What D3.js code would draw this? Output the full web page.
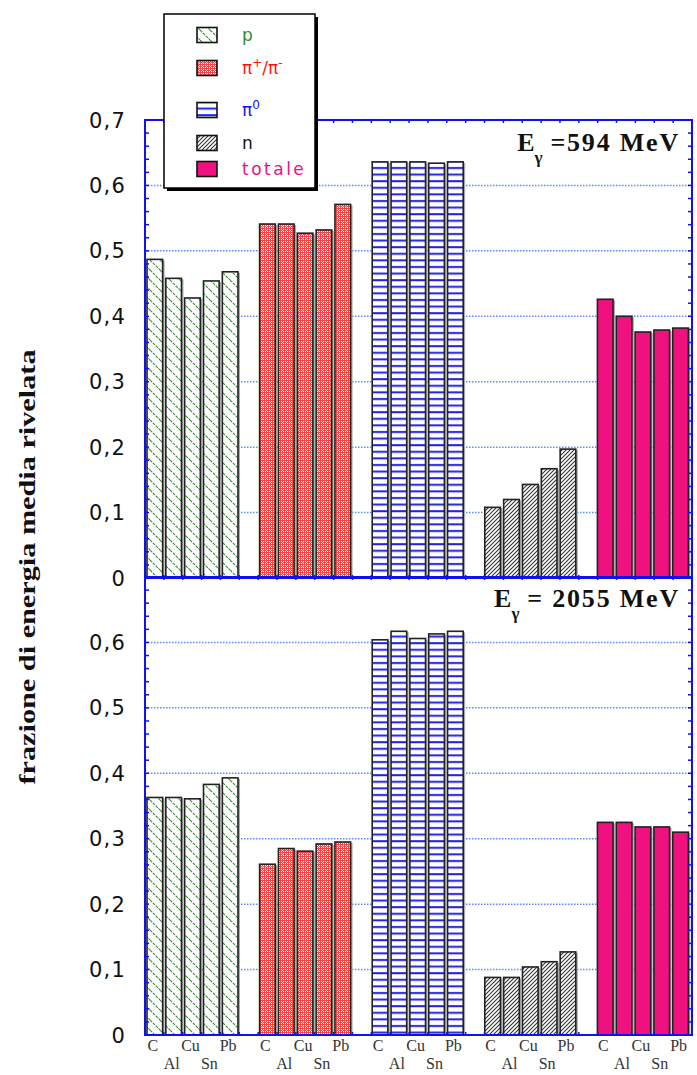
<!DOCTYPE html>
<html>
<head>
<meta charset="utf-8">
<title>frazione di energia media rivelata</title>
<script src="https://cdn.jsdelivr.net/npm/d3@7"></script>
<style>
body { margin: 0; background: #fff; }
svg { display: block; }
</style>
</head>
<body>
<div id="chart"></div>
<script>
// categories
var particles = ["p", "pipm", "pi0", "n", "totale"];
var targets = ["C", "Al", "Cu", "Sn", "Pb"];
// E gamma = 594 MeV
var p594 = [0.487, 0.458, 0.428, 0.454, 0.468];
var pipm594 = [0.541, 0.541, 0.527, 0.532, 0.571];
var pi0594 = [0.636, 0.636, 0.636, 0.634, 0.636];
var n594 = [0.108, 0.120, 0.143, 0.167, 0.197];
var tot594 = [0.426, 0.400, 0.376, 0.379, 0.382];
// E gamma = 2055 MeV
var p2055 = [0.363, 0.363, 0.361, 0.383, 0.393];
var pipm2055 = [0.261, 0.285, 0.281, 0.292, 0.295];
var pi02055 = [0.604, 0.617, 0.606, 0.613, 0.617];
var n2055 = [0.088, 0.088, 0.104, 0.112, 0.127];
var tot2055 = [0.325, 0.325, 0.318, 0.318, 0.310];
// axis
var yTicks = [0, 0.1, 0.2, 0.3, 0.4, 0.5, 0.6, 0.7];
var gridTicks = [0.1, 0.2, 0.3, 0.4, 0.5, 0.6];
var topRowTargets = ["C", "Cu", "Pb"];

var W = 697, H = 1075;
var left = 145, right = 692;
var BLUE = "#1010f0";

var svg = d3.select("#chart").append("svg").attr("width", W).attr("height", H);
var defs = svg.append("defs");

// fill patterns
var pp = defs.append("pattern").attr("id", "pat-p").attr("patternUnits", "userSpaceOnUse")
	.attr("width", 10).attr("height", 10);
pp.append("rect").attr("width", 10).attr("height", 10).attr("fill", "#fff");
pp.append("path").attr("d", "M0,0 L10,10 M8,-2 L12,2 M-2,8 L2,12").attr("stroke", "#3b8a3b")
	.attr("stroke-width", 1.1).attr("stroke-dasharray", "3,1");

var pm = defs.append("pattern").attr("id", "pat-pipm").attr("patternUnits", "userSpaceOnUse")
	.attr("width", 4).attr("height", 4);
pm.append("rect").attr("width", 4).attr("height", 4).attr("fill", "#ff4040").attr("shape-rendering", "crispEdges");
[[1, 1], [3, 3], [3, 1], [1, 3]].forEach(function(c) {
	pm.append("rect").attr("x", c[0]).attr("y", c[1]).attr("width", 1).attr("height", 1)
		.attr("fill", "#fff").attr("shape-rendering", "crispEdges");
});
pm.append("rect").attr("x", 2).attr("y", 2).attr("width", 1).attr("height", 1)
	.attr("fill", "#ffc0c0").attr("shape-rendering", "crispEdges");

var p0 = defs.append("pattern").attr("id", "pat-pi0").attr("patternUnits", "userSpaceOnUse")
	.attr("width", 6).attr("height", 6.6);
p0.append("rect").attr("width", 6).attr("height", 6.6).attr("fill", "#fff");
p0.append("rect").attr("y", 2).attr("width", 6).attr("height", 2).attr("fill", "#2222e0");

var pn = defs.append("pattern").attr("id", "pat-n").attr("patternUnits", "userSpaceOnUse")
	.attr("width", 4).attr("height", 4);
pn.append("rect").attr("width", 4).attr("height", 4).attr("fill", "#fff");
pn.append("path").attr("d", "M0,4 L4,0 M-1,1 L1,-1 M3,5 L5,3").attr("stroke", "#333")
	.attr("stroke-width", 1.1);

var fills = {
	p: "url(#pat-p)", pipm: "url(#pat-pipm)", pi0: "url(#pat-pi0)",
	n: "url(#pat-n)", totale: "#f0107f"
};

var fmt = d3.formatLocale({decimal: ",", thousands: ".", grouping: [3], currency: ["", ""]}).format(".1~f");

var xGroup = d3.scaleBand().domain(particles).range([147, 688.4]).paddingInner(0.192).paddingOuter(0);
var xBar = d3.scaleBand().domain(targets).range([0, xGroup.bandwidth()]).paddingInner(0.17).paddingOuter(0);
var xTick = d3.scaleLinear().domain([0, 29]).range([left, right]);
var yMinor = d3.range(0, 0.701, 0.02);

var panels = [
	{data: {p: p594, pipm: pipm594, pi0: pi0594, n: n594, totale: tot594},
	 y: d3.scaleLinear().domain([0, 0.7]).range([578, 120]), labels: yTicks, energy: "=594 MeV", gap: 8, ey: 151},
	{data: {p: p2055, pipm: pipm2055, pi0: pi02055, n: n2055, totale: tot2055},
	 y: d3.scaleLinear().domain([0, 0.7]).range([1035, 577]), labels: yTicks.slice(0, 7), energy: "= 2055 MeV", gap: 8, ey: 607}
];

panels.forEach(function(pan) {
	var y = pan.y;
	var g = svg.append("g");
	// gridlines
	g.selectAll("line.grid").data(gridTicks).enter().append("line")
		.attr("x1", left).attr("x2", right)
		.attr("y1", function(d) { return y(d); }).attr("y2", function(d) { return y(d); })
		.attr("stroke", "#5a8cff").attr("stroke-width", 1.5).attr("stroke-dasharray", "1.5,1.5");
	// bars
	var rows = [];
	particles.forEach(function(k) {
		pan.data[k].forEach(function(v, i) { rows.push({k: k, t: targets[i], v: v}); });
	});
	g.selectAll("rect.shadow").data(rows).enter().append("rect")
		.attr("x", function(d) { return xGroup(d.k) + xBar(d.t) + 2; })
		.attr("y", function(d) { return y(d.v) + 1; })
		.attr("width", xBar.bandwidth())
		.attr("height", function(d) { return y(0) - y(d.v) - 1; })
		.attr("fill", "#aaa");
	g.selectAll("rect.base").data(rows).enter().append("rect")
		.attr("x", function(d) { return xGroup(d.k) + xBar(d.t); })
		.attr("y", function(d) { return y(d.v); })
		.attr("width", xBar.bandwidth())
		.attr("height", function(d) { return y(0) - y(d.v); })
		.attr("fill", "#fff");
	g.selectAll("rect.bar").data(rows).enter().append("rect")
		.attr("x", function(d) { return xGroup(d.k) + xBar(d.t); })
		.attr("y", function(d) { return y(d.v); })
		.attr("width", xBar.bandwidth())
		.attr("height", function(d) { return y(0) - y(d.v); })
		.attr("fill", function(d) { return fills[d.k]; })
		.attr("stroke", "#222").attr("stroke-width", 1.6);
	// frame
	var y0 = y(0), y1 = y(0.7);
	g.append("rect").attr("x", left).attr("y", y1).attr("width", right - left).attr("height", y0 - y1)
		.attr("fill", "none").attr("stroke", BLUE).attr("stroke-width", 2);
	// minor ticks on left and right
	g.selectAll("line.tl").data(yMinor).enter().append("line")
		.attr("x1", left).attr("x2", left + 4)
		.attr("y1", function(d) { return y(d); }).attr("y2", function(d) { return y(d); })
		.attr("stroke", BLUE).attr("stroke-width", 1.5);
	g.selectAll("line.tr").data(yMinor).enter().append("line")
		.attr("x1", right - 4).attr("x2", right)
		.attr("y1", function(d) { return y(d); }).attr("y2", function(d) { return y(d); })
		.attr("stroke", BLUE).attr("stroke-width", 1.5);
	// ticks along top and bottom
	var xt = d3.range(0, 30);
	g.selectAll("line.tt").data(xt).enter().append("line")
		.attr("x1", function(d) { return xTick(d); }).attr("x2", function(d) { return xTick(d); })
		.attr("y1", y1).attr("y2", y1 + 3).attr("stroke", BLUE).attr("stroke-width", 1.5);
	g.selectAll("line.tb").data(xt).enter().append("line")
		.attr("x1", function(d) { return xTick(d); }).attr("x2", function(d) { return xTick(d); })
		.attr("y1", y0 - 3).attr("y2", y0).attr("stroke", BLUE).attr("stroke-width", 1.5);
	// y labels
	g.selectAll("text.yl").data(pan.labels).enter().append("text")
		.attr("x", 126).attr("y", function(d) { return y(d); })
		.attr("dy", "0.36em").attr("text-anchor", "end")
		.attr("font-family", "DejaVu Sans, sans-serif").attr("font-size", 21)
		.attr("letter-spacing", 1.2).attr("fill", "#111")
		.text(function(d) { return fmt(d); });
	// energy label
	var et = g.append("text").attr("x", 680).attr("y", pan.ey).attr("text-anchor", "end")
		.attr("font-family", "Liberation Serif, serif").attr("font-weight", "bold")
		.attr("font-size", 26).attr("fill", "#111");
	et.append("tspan").text("E");
	et.append("tspan").attr("font-size", 17).attr("dy", 12).text("γ");
	et.append("tspan").attr("dy", -12).attr("dx", pan.gap).attr("letter-spacing", 1.8).text(pan.energy);
});

// x labels (targets) under bottom panel
var labelRows = [];
particles.forEach(function(k) {
	targets.forEach(function(t) { labelRows.push({k: k, t: t}); });
});
svg.selectAll("text.xl").data(labelRows).enter().append("text")
	.attr("x", function(d) { return xGroup(d.k) + xBar(d.t) + xBar.bandwidth() / 2 - 2; })
	.attr("y", function(d) { return topRowTargets.indexOf(d.t) >= 0 ? 1051 : 1069; })
	.attr("text-anchor", "middle")
	.attr("font-family", "Liberation Serif, serif").attr("font-size", 16).attr("fill", "#333")
	.text(function(d) { return d.t; });

// y axis title
svg.append("text").attr("transform", "translate(35,567) rotate(-90)")
	.attr("text-anchor", "middle")
	.attr("font-family", "Liberation Serif, serif").attr("font-weight", "bold")
	.attr("font-size", 24).attr("fill", "#111")
	.attr("textLength", 435).attr("lengthAdjust", "spacingAndGlyphs")
	.text("frazione di energia media rivelata");

// legend
var legendColors = {p: "#2e8b2e", pipm: "#ff1010", pi0: "#1010ff", n: "#111", totale: "#f0107f"};
var legendY = {p: 35, pipm: 68, pi0: 110, n: 143, totale: 169};
var lg = svg.append("g");
lg.append("rect").attr("x", 167).attr("y", 17).attr("width", 151).attr("height", 174).attr("fill", "#000");
lg.append("rect").attr("x", 164).attr("y", 14).attr("width", 151).attr("height", 174)
	.attr("fill", "#fff").attr("stroke", "#000").attr("stroke-width", 1.5);
particles.forEach(function(k) {
	var cy = legendY[k];
	lg.append("rect").attr("x", 197).attr("y", cy - 7.5).attr("width", 20).attr("height", 15)
		.attr("fill", fills[k]).attr("stroke", "#111").attr("stroke-width", 1.6);
	var t = lg.append("text").attr("x", 242).attr("y", cy + 6)
		.attr("font-family", "DejaVu Sans, sans-serif").attr("font-size", 17)
		.attr("fill", legendColors[k]);
	if (k == "pipm") {
		t.append("tspan").text("π");
		t.append("tspan").attr("font-size", 12).attr("dy", -7).text("+");
		t.append("tspan").attr("dy", 7).text("/π");
		t.append("tspan").attr("font-size", 12).attr("dy", -7).text("-");
	} else if (k == "pi0") {
		t.append("tspan").text("π");
		t.append("tspan").attr("font-size", 12).attr("dy", -7).text("0");
	} else if (k == "totale") {
		t.attr("letter-spacing", 2.5).text("totale");
	} else {
		t.text(k);
	}
});
</script>
</body>
</html>
